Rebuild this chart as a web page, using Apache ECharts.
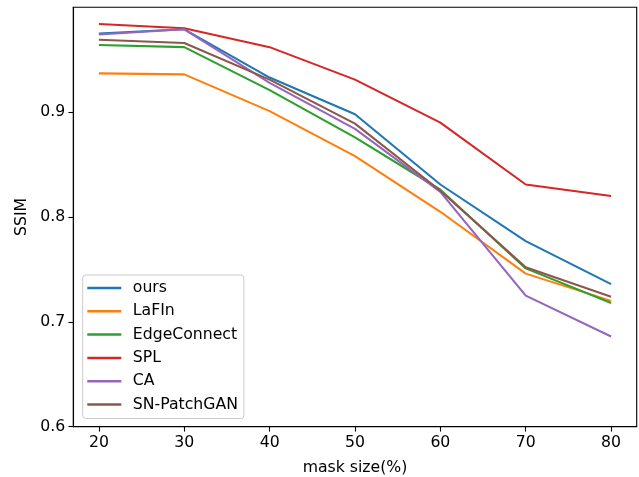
<!DOCTYPE html>
<html>
<head>
<meta charset="utf-8">
<script src="https://cdn.jsdelivr.net/npm/echarts@6/dist/echarts.min.js"></script>
<style>html,body{margin:0;padding:0;background:#fff}#c{width:639px;height:477px}</style>
</head>
<body>
<div id="c"></div>
<script>
var maskSizes = [20, 30, 40, 50, 60, 70, 80];
var xTicks = [20, 30, 40, 50, 60, 70, 80];
var yTicks = [0.6, 0.7, 0.8, 0.9];
var seriesNames = ['ours', 'LaFIn', 'EdgeConnect', 'SPL', 'CA', 'SN-PatchGAN'];
var ours        = [0.975, 0.979, 0.933, 0.898, 0.831, 0.777, 0.736];
var lafin       = [0.937, 0.936, 0.901, 0.858, 0.805, 0.746, 0.720];
var edgeConnect = [0.964, 0.962, 0.921, 0.876, 0.826, 0.751, 0.718];
var spl         = [0.984, 0.980, 0.962, 0.931, 0.890, 0.831, 0.820];
var ca          = [0.974, 0.979, 0.928, 0.884, 0.824, 0.725, 0.686];
var snPatchGAN  = [0.969, 0.966, 0.931, 0.889, 0.825, 0.752, 0.724];
var allValues = [ours, lafin, edgeConnect, spl, ca, snPatchGAN];
var colors = ['#1f77b4', '#ff7f0e', '#2ca02c', '#d62728', '#9467bd', '#8c564b'];

var font = 'DejaVu Sans';
var fs = 15.7;

var series = seriesNames.map(function (name, i) {
  return {
    name: name,
    type: 'line',
    symbol: 'none',
    data: maskSizes.map(function (x, j) { return [x, allValues[i][j]]; }),
    lineStyle: { width: 2.08, color: colors[i] },
    itemStyle: { color: colors[i] },
    emphasis: { disabled: true },
    z: 2
  };
});

var chart = echarts.init(document.getElementById('c'), null, { renderer: 'canvas' });
chart.setOption({
  animation: false,
  backgroundColor: '#fff',
  grid: {
    left: 73.3, right: 2.3, top: 7.3, bottom: 50.3,
    outerBoundsMode: 'none', containLabel: false,
    show: true, borderColor: '#000', borderWidth: 1.1, backgroundColor: '#fff'
  },
  xAxis: {
    type: 'value', min: 17, max: 83,
    name: 'mask size(%)', nameLocation: 'middle', nameGap: 33,
    nameTextStyle: { fontFamily: font, fontSize: fs, color: '#000' },
    splitLine: { show: false },
    axisLine: { show: true, lineStyle: { color: '#000', width: 1.1 } },
    axisTick: { show: true, inside: false, length: 4.9, customValues: xTicks, lineStyle: { color: '#000', width: 1.1 } },
    axisLabel: { customValues: xTicks, margin: 8, fontFamily: font, fontSize: fs, color: '#000' }
  },
  yAxis: {
    type: 'value', min: 0.6, max: 1.0,
    name: 'SSIM', nameLocation: 'middle', nameGap: 40, nameRotate: 90,
    nameTextStyle: { fontFamily: font, fontSize: fs, color: '#000' },
    splitLine: { show: false },
    axisLine: { show: true, lineStyle: { color: '#000', width: 1.1 } },
    axisTick: { show: true, inside: false, length: 4.9, customValues: yTicks, lineStyle: { color: '#000', width: 1.1 } },
    axisLabel: { customValues: yTicks, margin: 8, fontFamily: font, fontSize: fs, color: '#000',
      formatter: function (v) { return v.toFixed(1); } }
  },
  legend: {
    orient: 'vertical',
    left: 82.7, top: 275,
    padding: [5, 6, 6, 4.6],
    itemWidth: 34, itemHeight: 2.5,
    itemGap: 7.3,
    icon: 'rect',
    backgroundColor: 'rgba(255,255,255,0.8)',
    borderColor: '#cccccc', borderWidth: 1, borderRadius: 3,
    textStyle: { fontFamily: font, fontSize: fs, color: '#000', lineHeight: 16, padding: [0, 0, 0, 6.5] },
    data: seriesNames
  },
  series: series
});
</script>
</body>
</html>
